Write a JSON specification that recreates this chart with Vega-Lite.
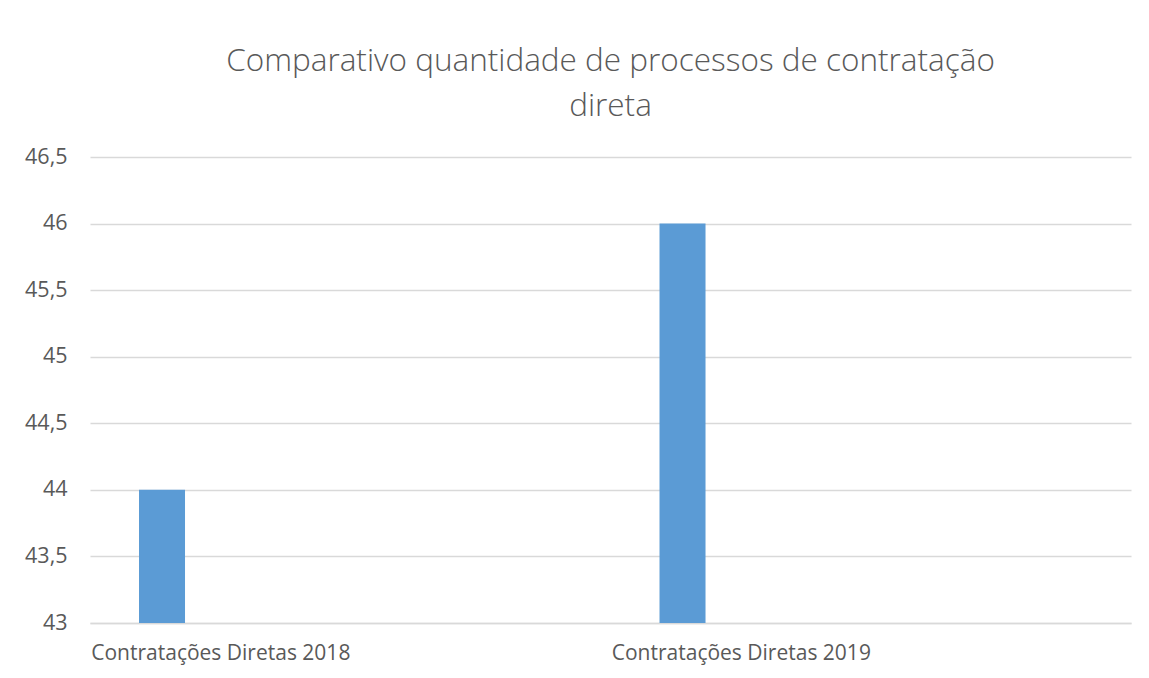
{
  "$schema": "https://vega.github.io/schema/vega-lite/v6.json",
  "width": 1041,
  "height": 466,
  "autosize": {"type": "none"},
  "padding": {"left": 90, "top": 157, "right": 18, "bottom": 55},
  "background": "white",
  "title": {
    "text": ["Comparativo quantidade de processos de contratação", "direta"],
    "font": "Open Sans",
    "fontSize": 31.5,
    "fontWeight": 300,
    "color": "#595959",
    "anchor": "middle",
    "lineHeight": 45,
    "offset": 24
  },
  "data": {
    "values": [
      {"categoria": "Contratações Diretas 2018", "serie": "Quantidade", "quantidade": 44},
      {"categoria": "Contratações Diretas 2019", "serie": "Quantidade", "quantidade": 46}
    ]
  },
  "mark": {"type": "bar", "color": "#5b9bd5"},
  "encoding": {
    "x": {
      "field": "categoria",
      "type": "nominal",
      "scale": {"paddingInner": 0, "paddingOuter": 0},
      "axis": {
        "title": null,
        "labelAngle": 0,
        "labelAlign": "left",
        "labelOffset": -259,
        "labelLimit": 0,
        "ticks": false,
        "domain": true,
        "domainColor": "#d9d9d9",
        "domainWidth": 1.5,
        "labelFont": "Open Sans",
        "labelFontSize": 21,
        "labelColor": "#595959",
        "labelPadding": 19
      }
    },
    "xOffset": {
      "field": "serie",
      "type": "nominal",
      "scale": {"paddingInner": 0.8061, "paddingOuter": 1, "align": 0.1033}
    },
    "y": {
      "field": "quantidade",
      "type": "quantitative",
      "scale": {"domain": [43, 46.5], "zero": false, "nice": false, "clamp": true},
      "axis": {
        "title": null,
        "values": [43, 43.5, 44, 44.5, 45, 45.5, 46, 46.5],
        "labelExpr": "replace(toString(datum.value), '.', ',')",
        "domain": false,
        "ticks": false,
        "grid": true,
        "gridColor": "#d9d9d9",
        "gridWidth": 1.5,
        "labelFont": "Open Sans",
        "labelFontSize": 21.5,
        "labelColor": "#595959",
        "labelPadding": 23
      }
    }
  },
  "config": {"view": {"stroke": null}}
}
